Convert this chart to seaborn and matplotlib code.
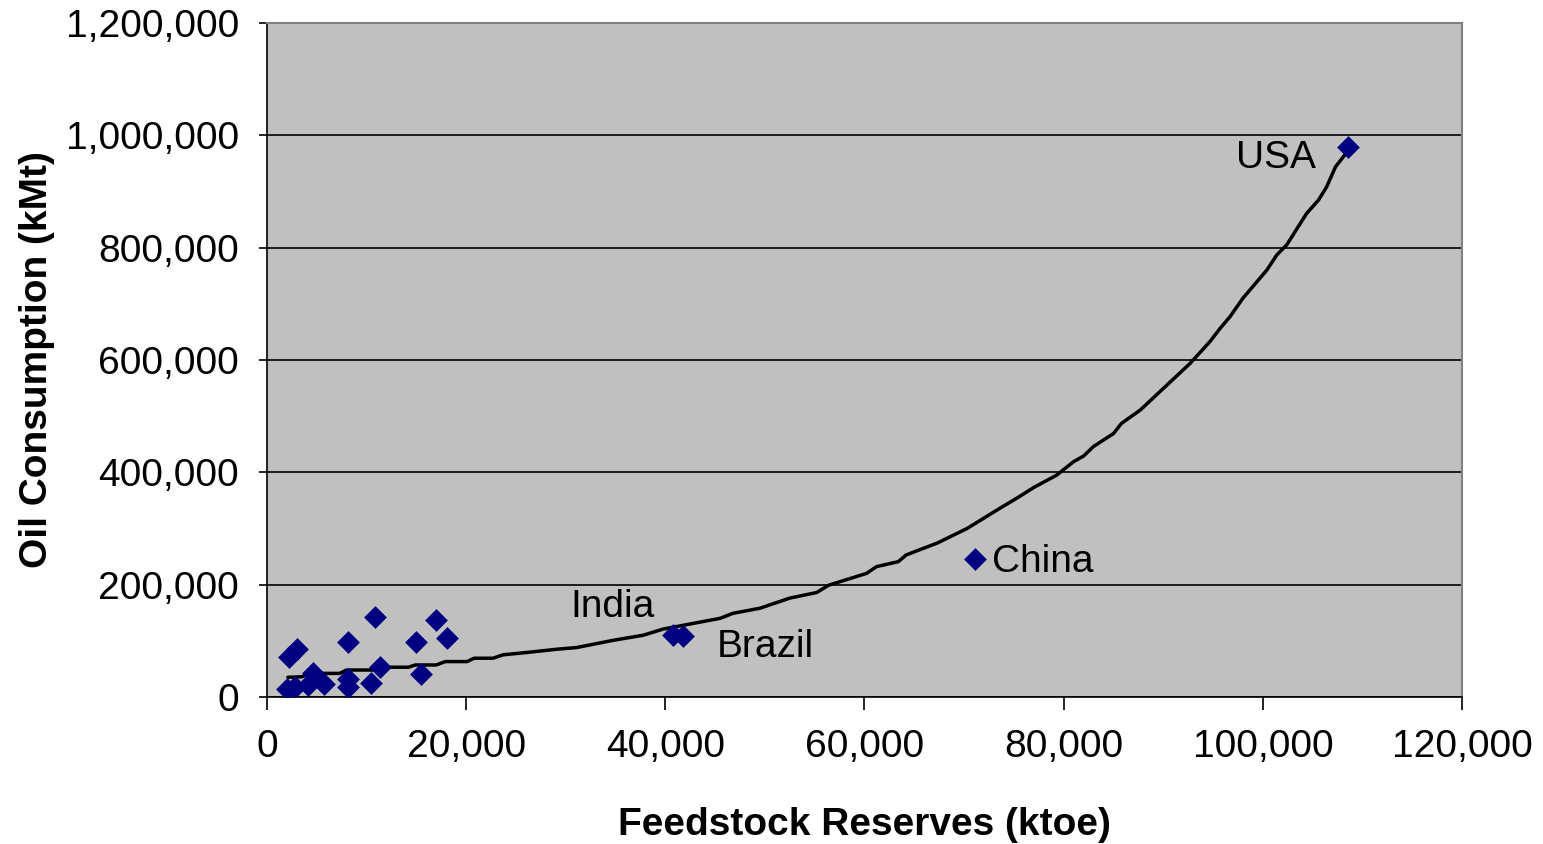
import matplotlib
matplotlib.use("Agg")
import matplotlib.pyplot as plt
import matplotlib.ticker as mticker
import seaborn as sns
import pandas as pd

# country points (ktoe, kMt)
reserves = [2000, 2800, 2200, 3000, 4150, 4600, 5750, 8100, 8100, 8100, 10400,
            10850, 11350, 15000, 15500, 17000, 18100, 40800, 41800, 71100, 108600]
consumption = [14000, 18000, 72000, 86000, 21000, 42000, 23000, 18300, 31500, 98500, 25500,
               142000, 53000, 98500, 41000, 137000, 104500, 110000, 108600, 245700, 979000]

# trend line (x in ktoe, y in kMt)
trend_x = [2100, 3500, 4300, 7300, 8000, 11200, 12200, 14200, 14900, 17000, 17900, 20100,
           20800, 22700, 23700, 26500, 29100, 31100, 34800, 37800, 39800, 42800, 45500,
           46800, 49500, 52500, 55200, 56400, 60200, 61200, 63400, 64200, 67300, 70300,
           73600, 75300, 77000, 79300, 81000, 82000, 83000, 85000, 85800, 87700, 92700,
           94700, 95700, 96700, 98000, 100400, 101400, 102400, 104400, 105600, 106400,
           107300, 108400]
trend_y = [35000, 36000, 42000, 42000, 48000, 48000, 53000, 53000, 57000, 57000, 63000, 63000,
           69000, 69000, 75000, 80000, 85000, 88000, 101000, 110000, 121000, 131000, 140000,
           149000, 158000, 176000, 186000, 199000, 220000, 232000, 241000, 253000, 274000, 300000,
           336000, 354000, 373000, 395000, 419000, 429000, 446000, 469000, 487000, 511000, 594000,
           633000, 656000, 677000, 710000, 760000, 787000, 805000, 861000, 885000, 908000,
           944000, 969000]

labels = ["USA", "China", "India", "Brazil"]
label_x = [101300, 72800, 34700, 50000]
label_y = [960000, 240000, 160000, 89000]
label_ha = ["center", "left", "center", "center"]

pts = pd.DataFrame({"x": reserves, "y": consumption})
trend = pd.DataFrame({"x": trend_x, "y": trend_y})

sns.set_style("white", {"axes.facecolor": "#C0C0C0"})
plt.rcParams["font.family"] = ["Liberation Sans", "DejaVu Sans"]

fig = plt.figure(figsize=(15.43, 8.44), dpi=100)
ax = fig.add_axes([0.173, 0.1742, 0.7745, 0.7985])

sns.lineplot(data=trend, x="x", y="y", color="black", linewidth=2.5, ax=ax,
             sort=False, estimator=None, zorder=3)
sns.scatterplot(data=pts, x="x", y="y", marker="D", s=135, color="#000080",
                edgecolor="#000080", linewidth=0, ax=ax, zorder=4)

for t, lx, ly, ha in zip(labels, label_x, label_y, label_ha):
    ax.text(lx, ly, t, fontsize=28, ha=ha, va="center", color="black", zorder=5)

ax.set_xlim(0, 120000)
ax.set_ylim(0, 1200000)
ax.xaxis.set_major_locator(mticker.MultipleLocator(20000))
ax.yaxis.set_major_locator(mticker.MultipleLocator(200000))
fmt = mticker.FuncFormatter(lambda v, p: f"{int(v):,}")
ax.xaxis.set_major_formatter(fmt)
ax.yaxis.set_major_formatter(fmt)

ax.yaxis.grid(True, color="black", linewidth=1.2)
ax.xaxis.grid(False)
ax.set_axisbelow(True)

ax.tick_params(axis="x", direction="out", length=9, width=1.2, pad=14, labelsize=28,
               bottom=True, colors="black")
ax.tick_params(axis="y", direction="out", length=6, width=1.2, pad=14, labelsize=28,
               left=True, colors="black")

for side in ["left", "bottom"]:
    ax.spines[side].set_color("black")
    ax.spines[side].set_linewidth(1.2)
for side in ["top", "right"]:
    ax.spines[side].set_visible(True)
    ax.spines[side].set_color("#808080")
    ax.spines[side].set_linewidth(1.5)

ax.set_xlabel("Feedstock Reserves (ktoe)", fontsize=28, fontweight="bold", labelpad=30,
              color="black")
ax.set_ylabel("Oil Consumption (kMt)", fontsize=28, fontweight="bold", labelpad=8,
              color="black")

fig.savefig("out.png", dpi=100, facecolor="white")
